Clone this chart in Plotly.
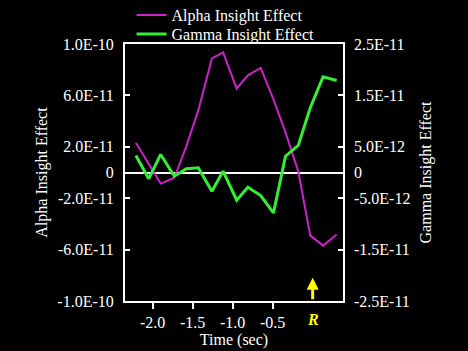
import plotly.graph_objects as go

time_sec = [-2.21, -2.05, -1.90, -1.73, -1.58, -1.43, -1.26, -1.12, -0.95,
            -0.81, -0.65, -0.49, -0.34, -0.18, -0.03, 0.13, 0.30]
alpha_effect = [23.1e-12, 7.0e-12, -8.6e-12, -4.1e-12, 20.3e-12, 48.3e-12, 88.8e-12,
                93.5e-12, 65.4e-12, 75.6e-12, 81.4e-12, 56.9e-12, 31.2e-12, 0.8e-12,
                -49.1e-12, -56.9e-12, -48.3e-12]
gamma_effect = [3.31e-12, -1.23e-12, 3.51e-12, -0.72e-12, 0.72e-12, 0.92e-12, -3.64e-12,
                0.25e-12, -5.40e-12, -2.86e-12, -4.48e-12, -7.85e-12, 3.17e-12, 5.26e-12,
                12.6e-12, 18.6e-12, 17.9e-12]

x_tickvals = [-2.0, -1.5, -1.0, -0.5]
x_ticktext = ["-2.0", "-1.5", "-1.0", "-0.5"]
left_tickvals = [-1e-10, -6e-11, -2e-11, 0, 2e-11, 6e-11, 1e-10]
left_ticktext = ["-1.0E-10", "-6.0E-11", "-2.0E-11", "0", "2.0E-11", "6.0E-11", "1.0E-10"]
right_tickvals = [-2.5e-11, -1.5e-11, -5e-12, 0, 5e-12, 1.5e-11, 2.5e-11]
right_ticktext = ["-2.5E-11", "-1.5E-11", "-5.0E-12", "0", "5.0E-12", "1.5E-11", "2.5E-11"]

FONT = "Liberation Serif"
MAGENTA = "#CC22CC"
GREEN = "#33EE33"

fig = go.Figure()
fig.add_trace(go.Scatter(x=time_sec, y=alpha_effect, mode="lines",
                         name="Alpha Insight Effect", legend="legend",
                         line=dict(color=MAGENTA, width=2)))
fig.add_trace(go.Scatter(x=time_sec, y=gamma_effect, mode="lines",
                         name="Gamma Insight Effect", yaxis="y2", legend="legend2",
                         line=dict(color=GREEN, width=3)))

leg_common = dict(xanchor="left", yanchor="top", bgcolor="rgba(0,0,0,0)",
                  font=dict(family=FONT, size=16, color="white"), itemwidth=30)

fig.update_layout(
    width=468, height=351,
    margin=dict(l=125, r=125, t=44, b=50, autoexpand=False),
    paper_bgcolor="black", plot_bgcolor="black",
    font=dict(family=FONT, size=16, color="white"),
    showlegend=True,
    legend=dict(x=0.03, y=1.179, **leg_common),
    legend2=dict(x=0.03, y=1.105, **leg_common),
    xaxis=dict(range=[-2.346, 0.379], tickvals=x_tickvals, ticktext=x_ticktext,
               ticks="outside", ticklen=6, tickwidth=2, tickcolor="white",
               showline=True, linecolor="white", linewidth=2, mirror=True,
               showgrid=False, zeroline=False, automargin=False,
               title=dict(text="Time (sec)", standoff=2,
                          font=dict(size=16, color="white"))),
    yaxis=dict(range=[-1e-10, 1e-10], tickvals=left_tickvals, ticktext=left_ticktext,
               ticks="inside", ticklen=5, tickwidth=2, tickcolor="white",
               ticklabelstandoff=6,
               showline=True, linecolor="white", linewidth=2, mirror=True,
               showgrid=False, zeroline=True, zerolinecolor="white", zerolinewidth=2,
               automargin=False,
               title=dict(text="Alpha Insight Effect", standoff=6,
                          font=dict(size=16, color="white"))),
    yaxis2=dict(range=[-2.5e-11, 2.5e-11], tickvals=right_tickvals, ticktext=right_ticktext,
                overlaying="y", side="right",
                ticks="inside", ticklen=5, tickwidth=2, tickcolor="white",
                ticklabelstandoff=10,
                showline=False, showgrid=False, zeroline=False, automargin=False,
                title=dict(text="Gamma Insight Effect", standoff=10,
                           font=dict(size=16, color="white"))),
)

fig.add_annotation(x=0, y=-8.2e-11, xref="x", yref="y", ax=0, ay=23,
                   showarrow=True, arrowhead=2, arrowsize=0.8, arrowwidth=3,
                   arrowcolor="#FFFF00", text="")
fig.add_annotation(x=0, y=-0.03, xref="x", yref="paper", yanchor="top",
                   showarrow=False, text="<b><i>R</i></b>",
                   font=dict(family=FONT, size=16, color="#FFFF00"))

fig.write_html("out.html",
               config={"displayModeBar": False},
               post_script="document.body.style.margin='0';"
                           "document.body.style.background='black';")
